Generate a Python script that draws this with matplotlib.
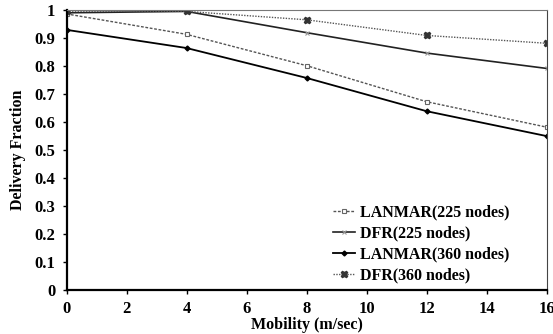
import numpy as np
import matplotlib.pyplot as plt

plt.rcParams['font.family'] = ['Liberation Serif', 'DejaVu Serif']
plt.rcParams['font.weight'] = 'bold'

mobility = [0, 4, 8, 12, 16]
lanmar_225 = [0.986, 0.913, 0.801, 0.672, 0.581]
dfr_225 = [0.990, 0.995, 0.919, 0.846, 0.791]
lanmar_360 = [0.929, 0.864, 0.757, 0.638, 0.549]
dfr_360 = [0.996, 0.995, 0.965, 0.909, 0.881]

fig = plt.figure(figsize=(5.53, 3.34), dpi=100)
ax = fig.add_axes([66.5/553, 1 - 289.5/334, 480/553, 279.5/334])

ax.plot(mobility, lanmar_225, color='#555555', linestyle=(0, (2, 1.2)), linewidth=1.0,
        marker='s', markersize=3.5, markerfacecolor='white', markeredgecolor='#666666',
        markeredgewidth=0.8, label='LANMAR(225 nodes)')
ax.plot(mobility, dfr_225, color='#222222', linestyle='-', linewidth=1.2,
        marker='x', markersize=3, markeredgecolor='#999999', markeredgewidth=0.8,
        label='DFR(225 nodes)')
ax.plot(mobility, lanmar_360, color='black', linestyle='-', linewidth=1.3,
        marker='D', markersize=2.5, label='LANMAR(360 nodes)')
ax.plot(mobility, dfr_360, color='#555555', linestyle=(0, (1, 1)), linewidth=1.0,
        marker='X', markersize=4.5, markerfacecolor='#333333', markeredgecolor='#333333',
        label='DFR(360 nodes)')

ax.set_xlim(0, 16)
ax.set_ylim(0, 1)
ax.set_xticks(np.arange(0, 17, 2))
ax.set_yticks(np.arange(0, 1.01, 0.1))
ax.set_yticklabels(['0', '0.1', '0.2', '0.3', '0.4', '0.5', '0.6', '0.7', '0.8', '0.9', '1'])
ax.tick_params(labelsize=12, direction='out', length=3, width=1)
for lbl in ax.get_xticklabels() + ax.get_yticklabels():
    lbl.set_fontweight('bold')
ax.tick_params(axis='x', pad=5)
ax.tick_params(axis='y', pad=5)

ax.spines['left'].set_linewidth(1.6)
ax.spines['bottom'].set_linewidth(1.6)
ax.spines['top'].set_linewidth(0.8)
ax.spines['top'].set_color('#777777')
ax.spines['right'].set_linewidth(0.8)
ax.spines['right'].set_color('#444444')

ax.set_xlabel('Mobility (m/sec)', fontsize=11.5, fontweight='bold', labelpad=0)
ax.set_ylabel('Delivery Fraction', fontsize=11.5, fontweight='bold', labelpad=6)

ax.legend(loc='lower right', bbox_to_anchor=(0.953, -0.03), frameon=False,
          handlelength=1.4, handletextpad=0.3, labelspacing=0.32,
          prop={'weight': 'bold', 'size': 11.5})

fig.savefig('out.png', dpi=100)
